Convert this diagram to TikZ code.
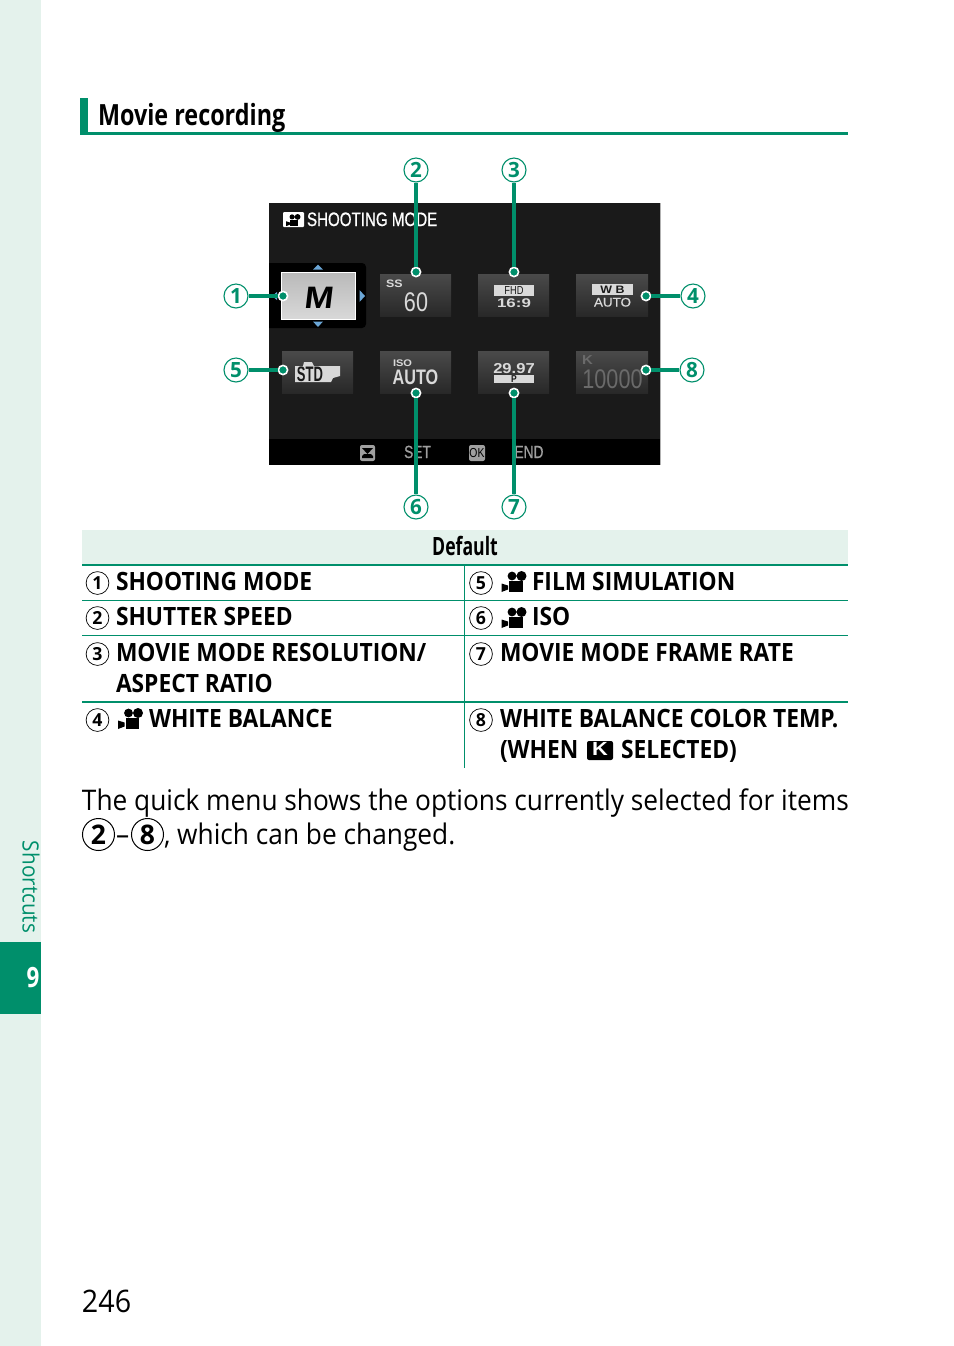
\documentclass[tikz,border=0pt]{standalone}
\usepackage{fontspec}
\setmainfont{Open Sans}[FakeStretch=0.925]
\newfontfamily\capsfont{Open Sans Bold}[FakeStretch=0.903]
\newfontfamily\headfont{Open Sans Bold}[FakeStretch=0.80]
\newfontfamily\defltfont{Open Sans Bold}[FakeStretch=0.70]
\newfontfamily\digitfont{Open Sans Bold}[FakeStretch=0.98]
\newfontfamily\lcd{Liberation Sans}[FakeStretch=0.80]
\newfontfamily\lcdx{Liberation Sans}[FakeStretch=1.08,FakeBold=0.5]
\newfontfamily\lcdm{Liberation Sans}[FakeStretch=0.78,FakeBold=0.8]
\newfontfamily\lcdb{Liberation Sans Bold}[FakeStretch=0.85]
\newfontfamily\lcdn{Liberation Sans Bold}[FakeStretch=0.62]
\newfontfamily\lcdt{Liberation Sans Bold}[FakeStretch=0.77]
\newfontfamily\lcdw{Liberation Sans Bold}[FakeStretch=1.15]
\newfontfamily\lcdxw{Liberation Sans Bold}[FakeStretch=1.34]
\newfontfamily\mfont{Liberation Sans Bold}[FakeStretch=1.12,FakeSlant=0.12]
\definecolor{fjgreen}{HTML}{008F6B}
\definecolor{fjpale}{HTML}{E4F2EC}
\definecolor{scr}{HTML}{1A1A1A}
\definecolor{tile}{HTML}{2A2A2A}
\definecolor{ltxt}{HTML}{D9D9D9}
\definecolor{dimtxt}{HTML}{6A6A6A}
\definecolor{arrowblue}{HTML}{6BA6D6}
\tikzset{
  x=0.5pt,y=-0.5pt,
  txt/.style={anchor=base west,inner sep=0pt,outer sep=0pt},
  ctr/.style={anchor=base,inner sep=0pt,outer sep=0pt},
  capsrow/.style={txt,font=\capsfont\fontsize{12.6}{14}\selectfont},
  bodytext/.style={txt,font=\fontsize{14.2}{17}\selectfont},
  callout/.style={circle,draw=fjgreen,fill=white,line width=0.55pt,minimum size=12pt,inner sep=0pt,text=fjgreen,font=\digitfont\fontsize{10.5}{11}\selectfont},
  dotmark/.style={circle,fill=fjgreen,draw=white,line width=0.8pt,minimum size=4.6pt,inner sep=0pt},
  leader/.style={draw=fjgreen,line width=1.7pt},
  rowno/.style={circle,draw=black,fill=white,line width=0.35pt,minimum size=11.4pt,inner sep=0pt,font=\digitfont\fontsize{9}{10}\selectfont},
  bigno/.style={circle,draw=black,line width=0.5pt,minimum size=16pt,inner sep=0pt,font=\digitfont\fontsize{13.5}{14}\selectfont},
  rule/.style={draw=fjgreen,line width=0.55pt},
  tilebox/.style={top color=tile!85!white,bottom color=tile!95!black,draw=none},
  moviecam/.pic={
    \fill[pic actions] (10.5,5) circle (4.4) (20,5) circle (5);
    \fill[pic actions] (7.7,10.3) rectangle (21,21);
    \fill[pic actions] (0,12.5) -- (6.5,14.5) -- (6.5,18.5) -- (0,21) -- cycle;
  }
}
\begin{document}
\begin{tikzpicture}
\useasboundingbox (0,0) rectangle (954,1346);
% side band
\fill[fjpale] (0,0) rectangle (41,1346);
\fill[fjgreen] (0,942) rectangle (41,1014);
\node[anchor=center,rotate=-90,inner sep=0pt,text=fjgreen,font=\fontsize{11.2}{12}\selectfont] (side) at (31,887) {Shortcuts};
\node[ctr,text=white,font=\headfont\fontsize{14}{14}\selectfont] (chap) at (33,987) {9};
% heading
\fill[fjgreen] (80,98) rectangle (88,135);
\draw[fjgreen,line width=1.5pt] (80,133.5) -- (848,133.5);
\node[txt,font=\headfont\fontsize{14.6}{16}\selectfont] (title) at (98,125) {Movie recording};
% screen
\fill[scr] (269,203) rectangle (660,465);
\draw[gray!60,line width=0.4pt] (660.5,203) -- (660.5,465);
\fill[black] (269,439) rectangle (660,465);
\fill[white,rounded corners=0.5pt] (283,212) rectangle (304,227);
\pic[fill=black,scale=0.58] at (286,214) {moviecam};
\node[txt,text=white,font=\lcdm\fontsize{9.7}{11}\selectfont] (smode) at (307,226) {SHOOTING MODE};
% selected tile
\fill[black] (269,263) [rounded corners=2pt] -- (366,263) -- (366,328) [sharp corners] -- (269,328) -- cycle;
\shade[top color=gray!55!white,bottom color=gray!30!white,draw=white,line width=0.4pt] (281,272) rectangle (355,319);
\node[ctr,font=\mfont\fontsize{15.5}{18}\selectfont] (mlabel) at (318,308) {M};
\fill[arrowblue] (318,264.5) -- (313,269.5) -- (323,269.5) -- cycle;
\fill[arrowblue] (318,327) -- (313,321.5) -- (323,321.5) -- cycle;
\fill[arrowblue] (365,296) -- (359.5,290) -- (359.5,302) -- cycle;
\fill[arrowblue] (272,296) -- (277,292) -- (277,300) -- cycle;
% tiles
\shade[tilebox] (380,274) rectangle (451,316);
\shade[tilebox] (478,274) rectangle (549,316);
\shade[tilebox] (576,274) rectangle (648,316);
\shade[tilebox] (282,351) rectangle (353,393);
\shade[tilebox] (380,351) rectangle (451,393);
\shade[tilebox] (478,351) rectangle (549,393);
\shade[tilebox] (576,351) rectangle (648,393);
% tile contents
\node[txt,text=ltxt,font=\lcdw\fontsize{5.4}{6}\selectfont] (ss) at (386,287) {SS};
\node[ctr,text=ltxt,font=\lcd\fontsize{13.5}{14}\selectfont] (sixty) at (416,311) {60};
\fill[ltxt] (494,285) rectangle (534,296);
\node[ctr,text=scr,font=\lcd\fontsize{5.8}{7}\selectfont] (fhd) at (514,294.5) {FHD};
\node[ctr,text=ltxt,font=\lcdxw\fontsize{6.3}{8}\selectfont] (ratio) at (514,307.5) {16:9};
\fill[ltxt] (592,284) rectangle (633,295);
\node[ctr,text=scr,font=\lcdw\fontsize{5.4}{6}\selectfont] (wb) at (612.5,293) {W\,\,B};
\node[ctr,text=ltxt,font=\lcdx\fontsize{6.2}{8}\selectfont] (wbauto) at (612.5,306.5) {AUTO};
\fill[ltxt] (295,366) -- (303,366) -- (304,362) -- (312,362) -- (314,366) -- (340,366) -- (340,376) -- (333,378) -- (331,382) -- (295,382) -- cycle;
\node[ctr,text=scr,font=\lcdn\fontsize{10.5}{11}\selectfont] (std) at (310,381) {STD};
\node[txt,text=ltxt,font=\lcdw\fontsize{4.8}{5}\selectfont] (iso) at (393,366.5) {ISO};
\node[ctr,text=ltxt,font=\lcdt\fontsize{10.5}{11}\selectfont] (isoauto) at (415.5,384) {AUTO};
\node[ctr,text=ltxt,font=\lcdw\fontsize{7.2}{8}\selectfont] (fps) at (514,373) {29.97};
\fill[ltxt] (494,375) rectangle (534,383);
\node[ctr,text=scr,font=\lcdb\fontsize{5}{5}\selectfont] (prog) at (514,382.5) {P};
\node[txt,text=dimtxt,font=\lcdw\fontsize{6.5}{6}\selectfont] (kicon) at (582,364) {K};
\node[ctr,text=dimtxt,font=\lcd\fontsize{13.5}{14}\selectfont] (kval) at (612.5,388) {10000};
% bottom bar
\fill[gray!75,rounded corners=1pt] (360,445) rectangle (375,461);
\fill[black] (362,448) -- (373,448) -- (367.5,454) -- cycle;
\fill[black] (362,456) -- (364,454) -- (371,454) -- (373,456) -- (373,458) -- (362,458) -- cycle;
\node[ctr,text=gray!75,font=\lcdm\fontsize{8.8}{9}\selectfont] (set) at (417.5,458) {SET};
\node[fill=gray!75,rounded corners=1pt,text=black,inner sep=0pt,minimum width=8pt,minimum height=8pt,font=\lcd\fontsize{6.5}{7}\selectfont] (okkey) at (477,453) {OK};
\node[ctr,text=gray!75,font=\lcdm\fontsize{8.8}{9}\selectfont] (endl) at (529,458) {END};
% callouts
\node[callout] (c1) at (236,296) {1};
\node[callout] (c2) at (416,170) {2};
\node[callout] (c3) at (514,170) {3};
\node[callout] (c4) at (693,296) {4};
\node[callout] (c5) at (236,370) {5};
\node[callout] (c6) at (416,507) {6};
\node[callout] (c7) at (514,507) {7};
\node[callout] (c8) at (692,370) {8};
\node[dotmark] (d1) at (283,296) {};
\node[dotmark] (d2) at (416,272) {};
\node[dotmark] (d3) at (514,272) {};
\node[dotmark] (d4) at (646,296) {};
\node[dotmark] (d5) at (283,370) {};
\node[dotmark] (d6) at (416,393) {};
\node[dotmark] (d7) at (514,393) {};
\node[dotmark] (d8) at (646,370) {};
\foreach \n in {1,...,8} {\draw[leader] (c\n) -- (d\n);}
% table
\fill[fjpale] (82,530) rectangle (848,565);
\node[ctr,font=\defltfont\fontsize{12.6}{14}\selectfont] (deflt) at (465,555) {Default};
\draw[rule] (82,565) -- (848,565);
\draw[rule] (82,600.5) -- (848,600.5);
\draw[rule] (82,635.5) -- (848,635.5);
\draw[fjgreen,line width=0.85pt] (82,702) -- (848,702);
\draw[rule] (464.5,565) -- (464.5,768);
\node[rowno] (r1) at (97.5,583) {1};
\node[rowno] (r2) at (97.5,618) {2};
\node[rowno] (r3) at (97.5,654) {3};
\node[rowno] (r4) at (97.5,720) {4};
\node[rowno] (r5) at (481,583) {5};
\node[rowno] (r6) at (481,618) {6};
\node[rowno] (r7) at (481,654) {7};
\node[rowno] (r8) at (481,720) {8};
\node[capsrow] (t1) at (116,590) {SHOOTING MODE};
\node[capsrow] (t2) at (116,625) {SHUTTER SPEED};
\node[capsrow] (t3) at (116,661) {MOVIE MODE RESOLUTION/};
\node[capsrow] (t3b) at (116,692) {ASPECT RATIO};
\pic[fill=black] at (118,708) {moviecam};
\node[capsrow] (t4) at (149,727) {WHITE BALANCE};
\pic[fill=black] at (501.5,571) {moviecam};
\node[capsrow] (t5) at (532,590) {FILM SIMULATION};
\pic[fill=black] at (501.5,607) {moviecam};
\node[capsrow] (t6) at (532,625) {ISO};
\node[capsrow] (t7) at (500,661) {MOVIE MODE FRAME RATE};
\node[capsrow] (t8) at (500,727) {WHITE BALANCE COLOR TEMP.};
\node[capsrow] (t8b) at (500,758) {(WHEN};
\fill[black,rounded corners=1pt] (587,741) rectangle (613,760);
\node[ctr,text=white,font=\lcdw\fontsize{9.5}{9}\selectfont] (kbadge) at (600,755.5) {K};
\node[capsrow] (t8c) at (621,758) {SELECTED)};
% body
\node[bodytext] (b1) at (82,810) {The quick menu shows the options currently selected for items};
\node[bigno] (n2) at (98.5,834.5) {2};
\node[bodytext] (dash) at (116,844) {–};
\node[bigno] (n8) at (147.5,834.5) {8};
\node[bodytext] (b2) at (164,844) {, which can be changed.};
\node[txt,font=\fontsize{15.5}{17}\selectfont] (page) at (82,1312) {246};
\end{tikzpicture}
\end{document}
